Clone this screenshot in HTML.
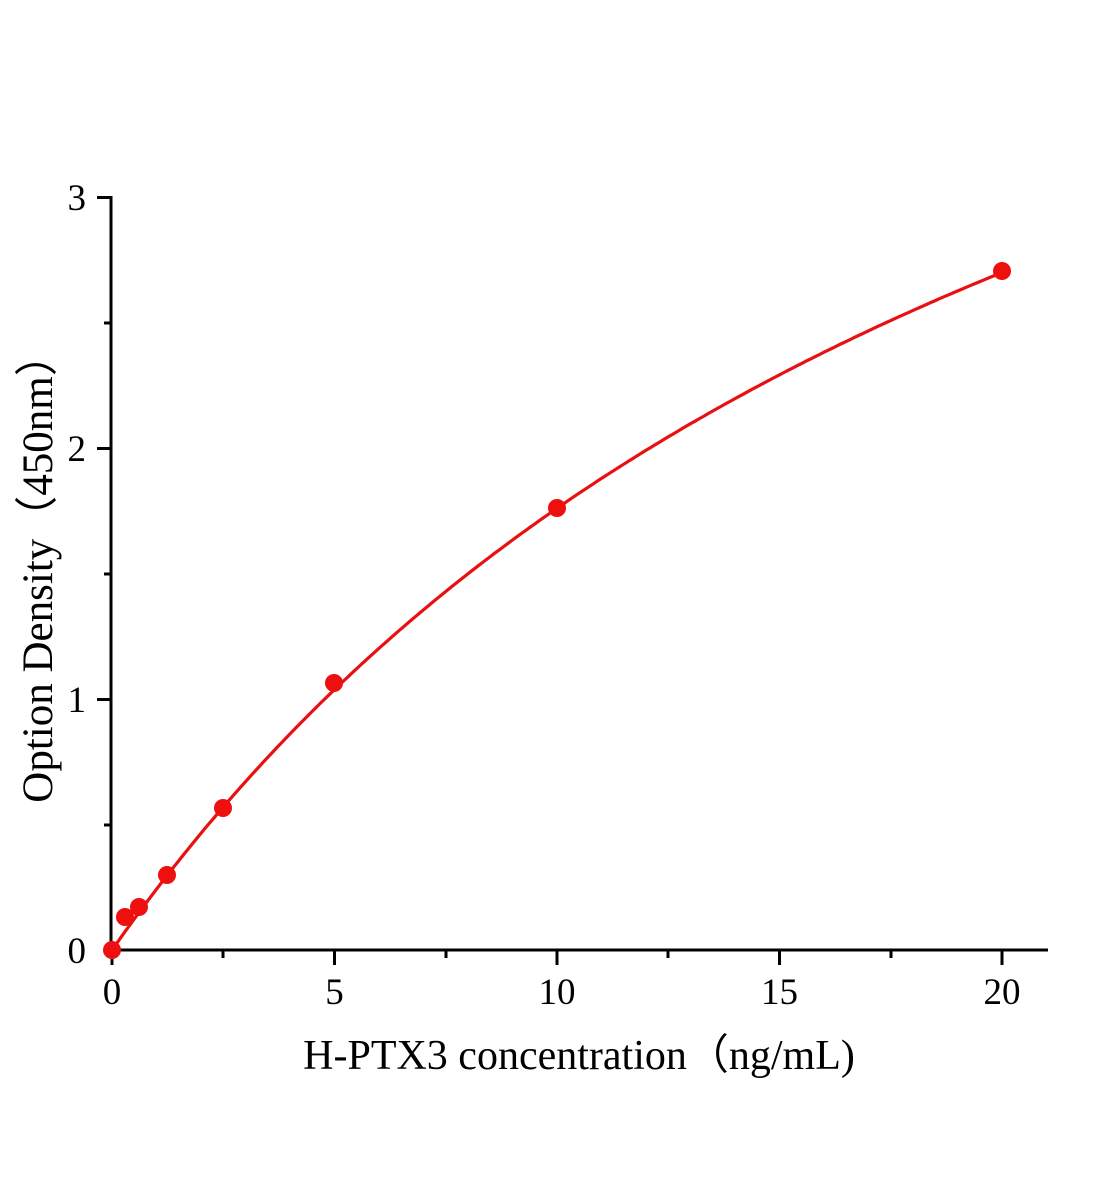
<!DOCTYPE html>
<html><head><meta charset="utf-8"><style>body{margin:0;background:#fff}svg{display:block}</style></head>
<body>
<svg id="s" width="1104" height="1200" xmlns="http://www.w3.org/2000/svg" font-family="Liberation Serif, serif">
<g stroke="#000" stroke-width="3" fill="none">
<line x1="111" y1="196" x2="111" y2="951"/>
<line x1="110" y1="950" x2="1048" y2="950"/>
<line x1="97" y1="197.5" x2="111" y2="197.5"/>
<line x1="104" y1="323" x2="111" y2="323"/>
<line x1="97" y1="448.5" x2="111" y2="448.5"/>
<line x1="104" y1="574" x2="111" y2="574"/>
<line x1="97" y1="699.5" x2="111" y2="699.5"/>
<line x1="104" y1="825" x2="111" y2="825"/>
<line x1="112" y1="950" x2="112" y2="965"/>
<line x1="223" y1="950" x2="223" y2="958"/>
<line x1="334.5" y1="950" x2="334.5" y2="965"/>
<line x1="446" y1="950" x2="446" y2="958"/>
<line x1="557" y1="950" x2="557" y2="965"/>
<line x1="668" y1="950" x2="668" y2="958"/>
<line x1="779.5" y1="950" x2="779.5" y2="965"/>
<line x1="891" y1="950" x2="891" y2="958"/>
<line x1="1002" y1="950" x2="1002" y2="965"/>
</g>
<g font-size="37" fill="#000">
<g text-anchor="end"><text x="86" y="210">3</text><text x="86" y="461">2</text><text x="86" y="712">1</text><text x="86" y="963">0</text></g>
<g text-anchor="middle"><text x="112" y="1004">0</text><text x="334.5" y="1004">5</text><text x="557" y="1004">10</text><text x="779.5" y="1004">15</text><text x="1002" y="1004">20</text></g>
</g>
<text x="579" y="1069" font-size="42" text-anchor="middle">H-PTX3 concentration（ng/mL)</text>
<text transform="translate(52,568) rotate(-90)" font-size="43" text-anchor="middle">Option Density（450nm）</text>
<path id="c" fill="none" stroke="#e81010" stroke-width="3.2"/>
<g fill="#f00f0f">
<circle cx="112" cy="950" r="9"/>
<circle cx="125" cy="917" r="9"/>
<circle cx="139" cy="907" r="9"/>
<circle cx="167" cy="875" r="9"/>
<circle cx="223" cy="808" r="9"/>
<circle cx="334" cy="683" r="9"/>
<circle cx="557" cy="508" r="9"/>
<circle cx="1002" cy="271" r="9"/>
</g>
<script>
var d="";for(var i=0;i<=200;i++){var x=i*0.1;var y=5.79*x/(22.9+x);var px=112+x*44.5,py=950-y*251;d+=(i?"L":"M")+px.toFixed(1)+","+py.toFixed(1);}
document.getElementById("c").setAttribute("d",d);
</script>
</svg>
</body></html>
